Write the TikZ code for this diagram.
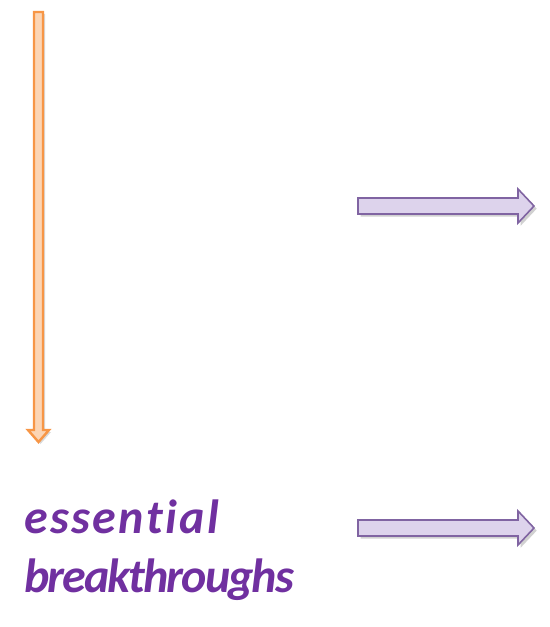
\documentclass[tikz,border=0pt]{standalone}
\usepackage{fontspec}
\setmainfont[Ligatures={NoCommon}]{Carlito}
\usetikzlibrary{shadows}
\definecolor{ofill}{HTML}{FCD5B4}
\definecolor{oline}{HTML}{F79646}
\definecolor{pfill}{HTML}{DDD3EC}
\definecolor{pline}{HTML}{8064A2}
\definecolor{ptext}{HTML}{7030A0}
\tikzset{
  orangearrow/.style={fill=ofill, draw=oline, line width=1.8pt, line join=miter,
    drop shadow={shadow xshift=1.5pt, shadow yshift=-1.5pt, opacity=0.25, fill=black!60}},
  purplearrow/.style={fill=pfill, draw=pline, line width=1.2pt, line join=miter,
    drop shadow={shadow xshift=2pt, shadow yshift=-2pt, opacity=0.3, fill=black!60}},
  label/.style={text=ptext, font=\fontsize{36}{43}\selectfont\bfseries\itshape, inner sep=0pt, anchor=base west}
}
\begin{document}
\begin{tikzpicture}[x=0.75pt,y=-0.75pt]
\useasboundingbox (0,0) rectangle (549,627);
% orange downward arrow
\path[orangearrow] (34,12) -- (43,12) -- (43,430) -- (49,430) -- (38.5,442) -- (28,430) -- (34,430) -- cycle;
% purple arrows
\path[purplearrow] (358,198) -- (518,198) -- (518,189) -- (534,206) -- (518,223) -- (518,214) -- (358,214) -- cycle;
\path[purplearrow] (358,520) -- (518,520) -- (518,511) -- (534,528) -- (518,545) -- (518,536) -- (358,536) -- cycle;
% text
\node[label] (t1) at (24,533) {\addfontfeature{LetterSpace=5}essential};
\node[label] (t2) at (24,592) {\addfontfeature{LetterSpace=-4}breakthroughs};
\end{tikzpicture}
\end{document}
